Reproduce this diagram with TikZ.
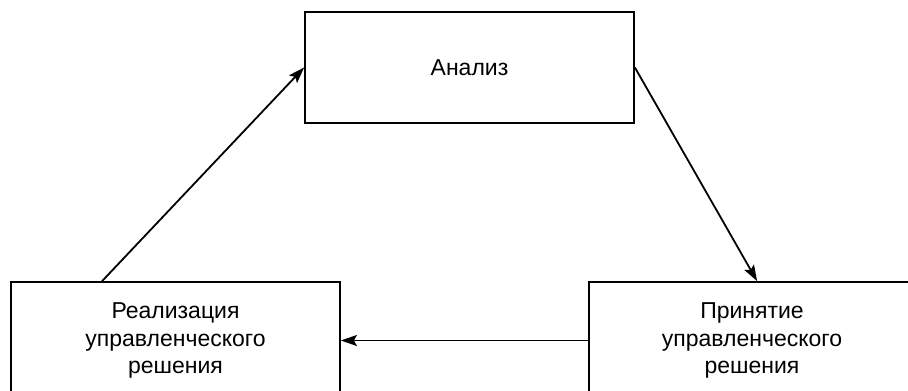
\documentclass[tikz,border=0pt]{standalone}
\usepackage{fontspec}
\setmainfont{Liberation Sans}
\usetikzlibrary{arrows.meta}
\tikzset{
  blk/.style={draw=black, line width=1.8pt, fill=white, align=center, inner sep=0pt,
    font=\fontsize{23}{27.5}\selectfont},
  arr/.style={draw=black, line width=1.8pt, -{Stealth[length=16pt,width=11pt,inset=3pt]}}
}
\begin{document}
\begin{tikzpicture}[x=1pt,y=-1pt]
\useasboundingbox (0,0) rectangle (908,391);
\clip (0,0) rectangle (908,391);
\node[blk, minimum width=329pt, minimum height=111pt] (top) at (469.5,67.5) {Анализ};
\node[blk, minimum width=329pt, minimum height=117pt] (bl) at (175.5,340.5) {Реализация\\управленческого\\решения};
\node[blk, minimum width=326pt, minimum height=117pt] (br) at (752,340.5) {Принятие\\управленческого\\решения};
\draw[arr] ([xshift=92pt]bl.north west) -- (top.west);
\draw[arr] (top.east) -- ([xshift=169pt]br.north west);
\draw[arr] (br.west) -- (bl.east);
\end{tikzpicture}
\end{document}
